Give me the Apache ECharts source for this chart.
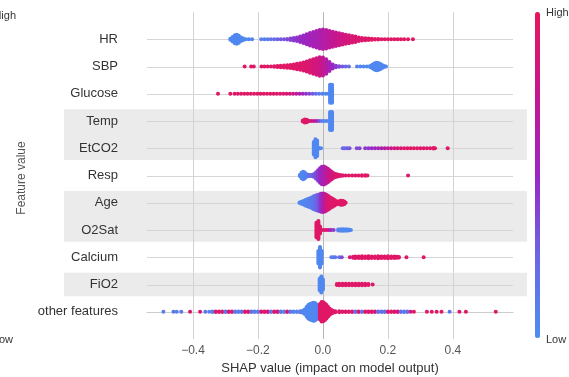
<!DOCTYPE html>
<html><head><meta charset="utf-8">
<script src="https://cdn.jsdelivr.net/npm/echarts@6/dist/echarts.min.js"></script>
<style>html,body{margin:0;padding:0;background:#fff}#c{width:569px;height:377px}</style>
</head><body><div id="c"></div>
<script>
// Feature rows, top to bottom
const features = ['HR','SBP','Glucose','Temp','EtCO2','Resp','Age','O2Sat','Calcium','FiO2','other features'];
const xTicks = [-0.4, -0.2, 0, 0.2, 0.4];
const shadedGroups = [['Temp','EtCO2'], ['Age','O2Sat'], ['FiO2']];
const xAxisTitle = 'SHAP value (impact on model output)';

// Beeswarm profiles: [SHAP value, spread (% of row height, half), feature value 0..1]
const HR = [
 [-0.285,9,0.05],[-0.278,16,0.05],[-0.271,22,0.05],[-0.265,24,0.05],[-0.259,20,0.05],[-0.252,14,0.05],
 [-0.245,10,0.05],[-0.237,7,0.05],[-0.228,6,0.05],[-0.218,6,0.05],
 [-0.190,6,0.08],[-0.180,6,0.1],[-0.170,6,0.12],[-0.160,6,0.18],[-0.150,6,0.22],[-0.140,7,0.26],
 [-0.130,7,0.3],[-0.120,7,0.33],[-0.110,8,0.36],[-0.100,10,0.39],[-0.090,12,0.42],[-0.080,14,0.45],
 [-0.070,17,0.48],[-0.060,21,0.5],[-0.050,26,0.52],[-0.040,30,0.54],[-0.030,34,0.56],[-0.020,38,0.58],
 [-0.010,41,0.61],[0.000,43,0.64],[0.010,41,0.67],[0.020,38,0.7],[0.030,35,0.73],[0.040,32,0.76],
 [0.050,29,0.79],[0.060,27,0.82],[0.070,24,0.84],[0.080,22,0.86],[0.090,19,0.88],[0.100,17,0.9],
 [0.110,14,0.91],[0.120,12,0.92],[0.130,11,0.93],[0.140,10,0.94],[0.150,9,0.95],[0.160,8,0.95],
 [0.170,8,0.95],[0.180,7,0.96],[0.190,7,0.96],[0.200,7,0.96],[0.210,7,0.96],[0.220,7,0.96],
 [0.230,6,0.96],[0.240,6,0.96],[0.250,6,0.96],[0.262,6,0.96],[0.277,6,0.96]
];
const SBP = [
 [-0.241,6,0.95],[-0.221,6,0.95],[-0.213,6,0.95],[-0.189,6,0.95],[-0.180,7,0.95],[-0.170,7,0.95],
 [-0.160,7,0.95],[-0.150,8,0.95],[-0.140,9,0.95],[-0.130,10,0.95],[-0.120,11,0.95],[-0.110,12,0.95],
 [-0.100,13,0.95],[-0.090,15,0.94],[-0.080,17,0.94],[-0.070,19,0.93],[-0.060,22,0.92],[-0.050,26,0.91],
 [-0.040,30,0.89],[-0.030,34,0.87],[-0.020,38,0.84],[-0.010,41,0.8],[0.000,40,0.74],[0.010,34,0.66],
 [0.020,24,0.58],[0.030,15,0.5],[0.040,10,0.42],[0.050,8,0.36],[0.060,7,0.3],[0.070,7,0.25],
 [0.080,7,0.2],[0.105,6,0.08],[0.115,6,0.06],[0.125,6,0.05],[0.135,7,0.05],[0.145,9,0.05],
 [0.152,14,0.05],[0.158,18,0.05],[0.164,21,0.05],[0.170,20,0.05],[0.176,17,0.05],[0.182,13,0.05],
 [0.188,9,0.05],[0.194,6,0.05]
];
const Glucose = [
 [-0.323,6,0.95],[-0.285,6,0.95],[-0.272,7,0.95],[-0.262,7,0.95],[-0.252,7,0.95],[-0.242,7,0.95],
 [-0.232,7,0.95],[-0.222,7,0.95],[-0.212,7,0.95],[-0.202,7,0.95],[-0.192,7,0.95],[-0.182,7,0.95],
 [-0.172,7,0.95],[-0.162,7,0.95],[-0.152,7,0.95],[-0.142,7,0.94],[-0.132,7,0.93],[-0.122,7,0.92],
 [-0.112,7,0.9],[-0.102,7,0.86],[-0.092,7,0.8],[-0.082,7,0.72],[-0.072,7,0.62],[-0.062,7,0.54],
 [-0.052,7,0.46],[-0.042,7,0.38],[-0.032,7,0.3],[-0.022,7,0.22],[-0.012,7,0.14],[-0.002,7,0.08],
 [0.008,7,0.05],[0.016,7,0.05],[0.022,40,0.05],[0.028,40,0.05]
];
const Temp = [
 [-0.062,9,0.95],[-0.056,13,0.95],[-0.050,12,0.95],[-0.044,8,0.92],[-0.036,7,0.85],[-0.028,6,0.75],
 [-0.020,6,0.6],[-0.012,6,0.35],[-0.004,6,0.15],[0.004,6,0.05],[0.012,6,0.05],[0.022,40,0.05],[0.028,40,0.05]
];
const EtCO2 = [
 [-0.028,30,0.05],[-0.023,40,0.05],[-0.018,36,0.05],[-0.012,8,0.05],[-0.006,6,0.05],
 [0.061,7,0.22],[0.067,7,0.25],[0.075,6,0.28],[0.082,6,0.3],[0.104,6,0.35],[0.113,6,0.38],
 [0.130,7,0.42],[0.140,7,0.45],[0.150,7,0.48],[0.160,7,0.52],[0.170,7,0.56],[0.180,7,0.6],
 [0.190,7,0.66],[0.200,7,0.72],[0.210,7,0.78],[0.220,7,0.83],[0.230,7,0.87],[0.240,7,0.9],
 [0.250,7,0.92],[0.260,7,0.95],[0.270,7,0.95],[0.280,7,0.95],[0.290,7,0.95],[0.300,7,0.95],
 [0.310,7,0.95],[0.320,7,0.95],[0.330,7,0.95],[0.340,8,0.95],[0.345,7,0.95],[0.384,6,0.95]
];
const Resp = [
 [-0.071,9,0.05],[-0.066,17,0.05],[-0.061,21,0.05],[-0.056,18,0.06],[-0.051,12,0.1],[-0.045,10,0.15],
 [-0.039,9,0.2],[-0.033,10,0.25],[-0.027,13,0.3],[-0.021,19,0.36],[-0.015,27,0.42],[-0.009,34,0.48],
 [-0.003,39,0.54],[0.003,40,0.6],[0.009,37,0.66],[0.015,32,0.72],[0.021,27,0.78],[0.027,21,0.83],
 [0.033,16,0.87],[0.039,13,0.9],[0.045,11,0.92],[0.052,9,0.93],[0.060,8,0.94],[0.070,7,0.95],
 [0.080,7,0.95],[0.090,7,0.95],[0.100,7,0.95],[0.110,7,0.95],[0.120,8,0.95],[0.130,8,0.95],
 [0.137,7,0.95],[0.262,6,0.92]
];
const Age = [
 [-0.072,8,0.05],[-0.066,11,0.05],[-0.060,14,0.05],[-0.054,17,0.06],[-0.048,20,0.08],[-0.042,23,0.1],
 [-0.036,26,0.12],[-0.030,30,0.15],[-0.024,33,0.2],[-0.018,36,0.26],[-0.012,38,0.34],[-0.006,40,0.45],
 [0.000,41,0.58],[0.006,39,0.72],[0.012,36,0.82],[0.018,31,0.88],[0.024,26,0.92],[0.030,22,0.94],
 [0.036,17,0.95],[0.042,13,0.95],[0.048,12,0.95],[0.054,15,0.95],[0.060,15,0.95],[0.066,12,0.95],
 [0.070,7,0.95]
];
const O2Sat = [
 [-0.020,34,0.95],[-0.014,40,0.95],[-0.009,20,0.95],[-0.003,7,0.95],[0.004,6,0.92],[0.011,6,0.88],
 [0.018,6,0.8],[0.025,7,0.55],[0.033,7,0.4],[0.047,9,0.1],[0.055,10,0.05],[0.063,10,0.05],
 [0.071,10,0.05],[0.079,9,0.05],[0.086,7,0.05]
];
const Calcium = [
 [-0.014,30,0.05],[-0.009,45,0.05],[-0.004,30,0.05],[0.026,7,0.1],[0.032,7,0.1],[0.038,6,0.15],
 [0.050,6,0.2],[0.058,6,0.35],[0.083,7,0.9],[0.093,9,0.93],[0.100,10,0.95],[0.110,10,0.95],
 [0.120,11,0.95],[0.130,10,0.95],[0.140,11,0.95],[0.150,10,0.95],[0.160,10,0.95],[0.170,11,0.95],
 [0.180,10,0.95],[0.190,10,0.95],[0.200,11,0.95],[0.210,10,0.95],[0.220,10,0.95],[0.228,9,0.95],
 [0.234,8,0.95],[0.257,6,0.95],[0.310,6,0.95]
];
const FiO2 = [
 [-0.010,28,0.05],[-0.005,37,0.05],[0.000,26,0.05],[0.043,9,0.93],[0.050,10,0.95],[0.060,10,0.95],
 [0.070,10,0.95],[0.080,10,0.95],[0.090,10,0.95],[0.100,10,0.95],[0.110,10,0.95],[0.120,10,0.95],
 [0.130,10,0.95],[0.140,9,0.95],[0.153,6,0.95]
];
const OtherFeatures = [
 [-0.491,6,0.1],[-0.460,6,0.12],[-0.450,6,0.1],[-0.436,6,0.15],[-0.409,6,0.9],[-0.378,6,0.9],
 [-0.362,6,0.15],[-0.350,7,0.1],[-0.340,8,0.12],[-0.330,8,0.9],[-0.320,8,0.92],[-0.310,8,0.9],
 [-0.300,8,0.15],[-0.290,8,0.9],[-0.280,8,0.92],[-0.270,8,0.15],[-0.260,8,0.1],[-0.250,8,0.15],
 [-0.240,8,0.9],[-0.230,8,0.92],[-0.220,8,0.2],[-0.210,8,0.1],[-0.200,8,0.12],[-0.190,8,0.9],
 [-0.180,8,0.92],[-0.170,8,0.9],[-0.160,8,0.15],[-0.150,8,0.88],[-0.140,8,0.9],[-0.130,8,0.15],
 [-0.120,8,0.1],[-0.110,8,0.9],[-0.100,8,0.15],[-0.090,8,0.1],[-0.080,8,0.1],[-0.070,9,0.1],
 [-0.062,11,0.08],[-0.056,16,0.06],[-0.050,25,0.05],[-0.045,32,0.05],[-0.040,36,0.05],[-0.035,38,0.05],
 [-0.030,40,0.05],[-0.025,39,0.05],[-0.020,35,0.06],[-0.015,28,0.1],
 [-0.009,36,0.95],[-0.004,43,0.95],[0.001,42,0.95],[0.006,38,0.95],[0.011,32,0.95],[0.016,25,0.95],
 [0.021,18,0.95],[0.026,14,0.95],[0.031,11,0.95],[0.038,9,0.92],
 [0.050,9,0.95],[0.060,8,0.95],[0.070,8,0.9],[0.080,8,0.95],[0.090,8,0.9],[0.100,8,0.2],
 [0.110,8,0.9],[0.120,8,0.15],[0.130,8,0.9],[0.140,8,0.95],[0.150,8,0.9],[0.160,8,0.9],
 [0.170,8,0.2],[0.180,8,0.15],[0.190,8,0.2],[0.200,8,0.9],[0.210,8,0.95],[0.220,8,0.9],
 [0.230,8,0.9],[0.240,8,0.2],[0.250,8,0.15],[0.260,8,0.2],[0.270,7,0.9],[0.280,7,0.95],
 [0.320,6,0.95],[0.335,6,0.95],[0.350,6,0.95],[0.365,6,0.95],[0.390,6,0.15],[0.420,6,0.95],
 [0.440,6,0.95],[0.532,6,0.95]
];
const profiles = {
  'HR': HR, 'SBP': SBP, 'Glucose': Glucose, 'Temp': Temp, 'EtCO2': EtCO2, 'Resp': Resp,
  'Age': Age, 'O2Sat': O2Sat, 'Calcium': Calcium, 'FiO2': FiO2, 'other features': OtherFeatures
};

const FONT = '"Liberation Sans", Arial, Helvetica, sans-serif';
const nRows = features.length;
const rowOf = name => nRows - 1 - features.indexOf(name);

const swarmData = [];
features.forEach(f => profiles[f].forEach(p => swarmData.push([p[0], rowOf(f), p[1], p[2]])));
const bandData = shadedGroups.map(g => [rowOf(g[g.length - 1]), rowOf(g[0])]);
const rowData = features.map(f => [0, rowOf(f)]);
const vData = xTicks.map(v => [v, 0]);

const chart = echarts.init(document.getElementById('c'), null, {renderer: 'canvas'});
chart.setOption({
  animation: false,
  backgroundColor: '#ffffff',
  textStyle: {fontFamily: FONT},
  grid: [
    {left: 147, right: 56, top: 12, bottom: 38, containLabel: false, outerBoundsMode: 'none'},
    {left: 64, right: 42, top: 12, bottom: 38, containLabel: false, outerBoundsMode: 'none'}
  ],
  xAxis: [
    {
      type: 'value', gridIndex: 0, min: -0.5415, max: 0.585,
      name: xAxisTitle, nameLocation: 'middle', nameGap: 22,
      nameTextStyle: {fontSize: 13, color: '#333', fontFamily: FONT},
      axisLine: {show: true, lineStyle: {color: '#cccccc', width: 1}},
      axisTick: {show: false},
      splitLine: {show: false},
      axisLabel: {
        customValues: xTicks, margin: 6, fontSize: 12, color: '#555', fontFamily: FONT,
        formatter: v => (v < 0 ? '\u2212' : '') + Math.abs(v).toFixed(1)
      },
      z: 1
    },
    {type: 'value', gridIndex: 1, min: 0, max: 1, show: false}
  ],
  yAxis: [
    {
      type: 'value', gridIndex: 0, min: -1, max: nRows, interval: 1,
      axisLine: {show: false}, axisTick: {show: false}, splitLine: {show: false},
      axisLabel: {
        margin: 29, fontSize: 13, color: '#333', fontFamily: FONT,
        formatter: v => (v >= 0 && v < nRows) ? features[nRows - 1 - v] : ''
      },
      z: 5
    },
    {type: 'value', gridIndex: 1, min: -1, max: nRows, show: false}
  ],
  visualMap: {
    type: 'continuous', min: 0, max: 1, dimension: 3, seriesIndex: 3,
    calculable: false, hoverLink: false, realtime: false,
    left: 535, top: 12, itemWidth: 5, itemHeight: 326, padding: 0,
    text: null, showLabel: false,
    inRange: {color: ['#4a8ff2', '#6a66e6', '#9a26c4', '#c6168f', '#e6175c']}
  },
  graphic: [
    {type: 'text', x: 16, y: 16, style: {text: 'High', align: 'right', verticalAlign: 'middle', font: '11px ' + FONT, fill: '#333'}},
    {type: 'text', x: 13, y: 340, style: {text: 'Low', align: 'right', verticalAlign: 'middle', font: '11px ' + FONT, fill: '#333'}},
    {type: 'text', x: 22, y: 178, rotation: Math.PI / 2, style: {text: 'Feature value', align: 'center', verticalAlign: 'middle', font: '12px ' + FONT, fill: '#555'}},
    {type: 'text', x: 546, y: 13, style: {text: 'High', align: 'left', verticalAlign: 'middle', font: '11px ' + FONT, fill: '#333'}},
    {type: 'text', x: 546, y: 340, style: {text: 'Low', align: 'left', verticalAlign: 'middle', font: '11px ' + FONT, fill: '#333'}}
  ],
  series: [
    { // shaded bands
      type: 'custom', xAxisIndex: 1, yAxisIndex: 1, z: 0, silent: true, clip: false,
      data: bandData,
      renderItem: (params, api) => {
        const cs = params.coordSys;
        const top = api.coord([0, api.value(1) + 0.43])[1];
        const bot = api.coord([0, api.value(0) - 0.43])[1];
        return {type: 'rect', shape: {x: cs.x, y: top, width: cs.width, height: bot - top}, style: {fill: '#ebebec'}};
      }
    },
    { // horizontal row lines
      type: 'custom', xAxisIndex: 0, yAxisIndex: 0, z: 1, silent: true,
      data: rowData,
      renderItem: (params, api) => {
        const cs = params.coordSys;
        const y = Math.round(api.coord([0, api.value(1)])[1]) + 0.5;
        return {type: 'line', shape: {x1: cs.x, y1: y, x2: cs.x + cs.width, y2: y}, style: {stroke: '#d6d6d6', lineWidth: 1}};
      }
    },
    { // vertical tick lines
      type: 'custom', xAxisIndex: 0, yAxisIndex: 0, z: 1, silent: true,
      data: vData,
      renderItem: (params, api) => {
        const cs = params.coordSys;
        const v = api.value(0);
        const x = Math.round(api.coord([v, 0])[0]) + 0.5;
        return {type: 'line', shape: {x1: x, y1: cs.y, x2: x, y2: cs.y + cs.height}, style: {stroke: v === 0 ? '#b8b8b8' : '#d2d2d2', lineWidth: 1}};
      }
    },
    { // beeswarm
      type: 'custom', xAxisIndex: 0, yAxisIndex: 0, z: 3, silent: true,
      encode: {x: 0, y: 1},
      data: swarmData,
      renderItem: (params, api) => {
        const c = api.coord([api.value(0), api.value(1)]);
        const unit = api.size([0, 1])[1];
        const h = Math.max(api.value(2) / 100 * unit, 2);
        const w = 4;
        return {type: 'rect', shape: {x: c[0] - w / 2, y: c[1] - h, width: w, height: 2 * h, r: 2}, style: {fill: api.visual('color')}};
      }
    }
  ]
});
</script>
</body></html>
